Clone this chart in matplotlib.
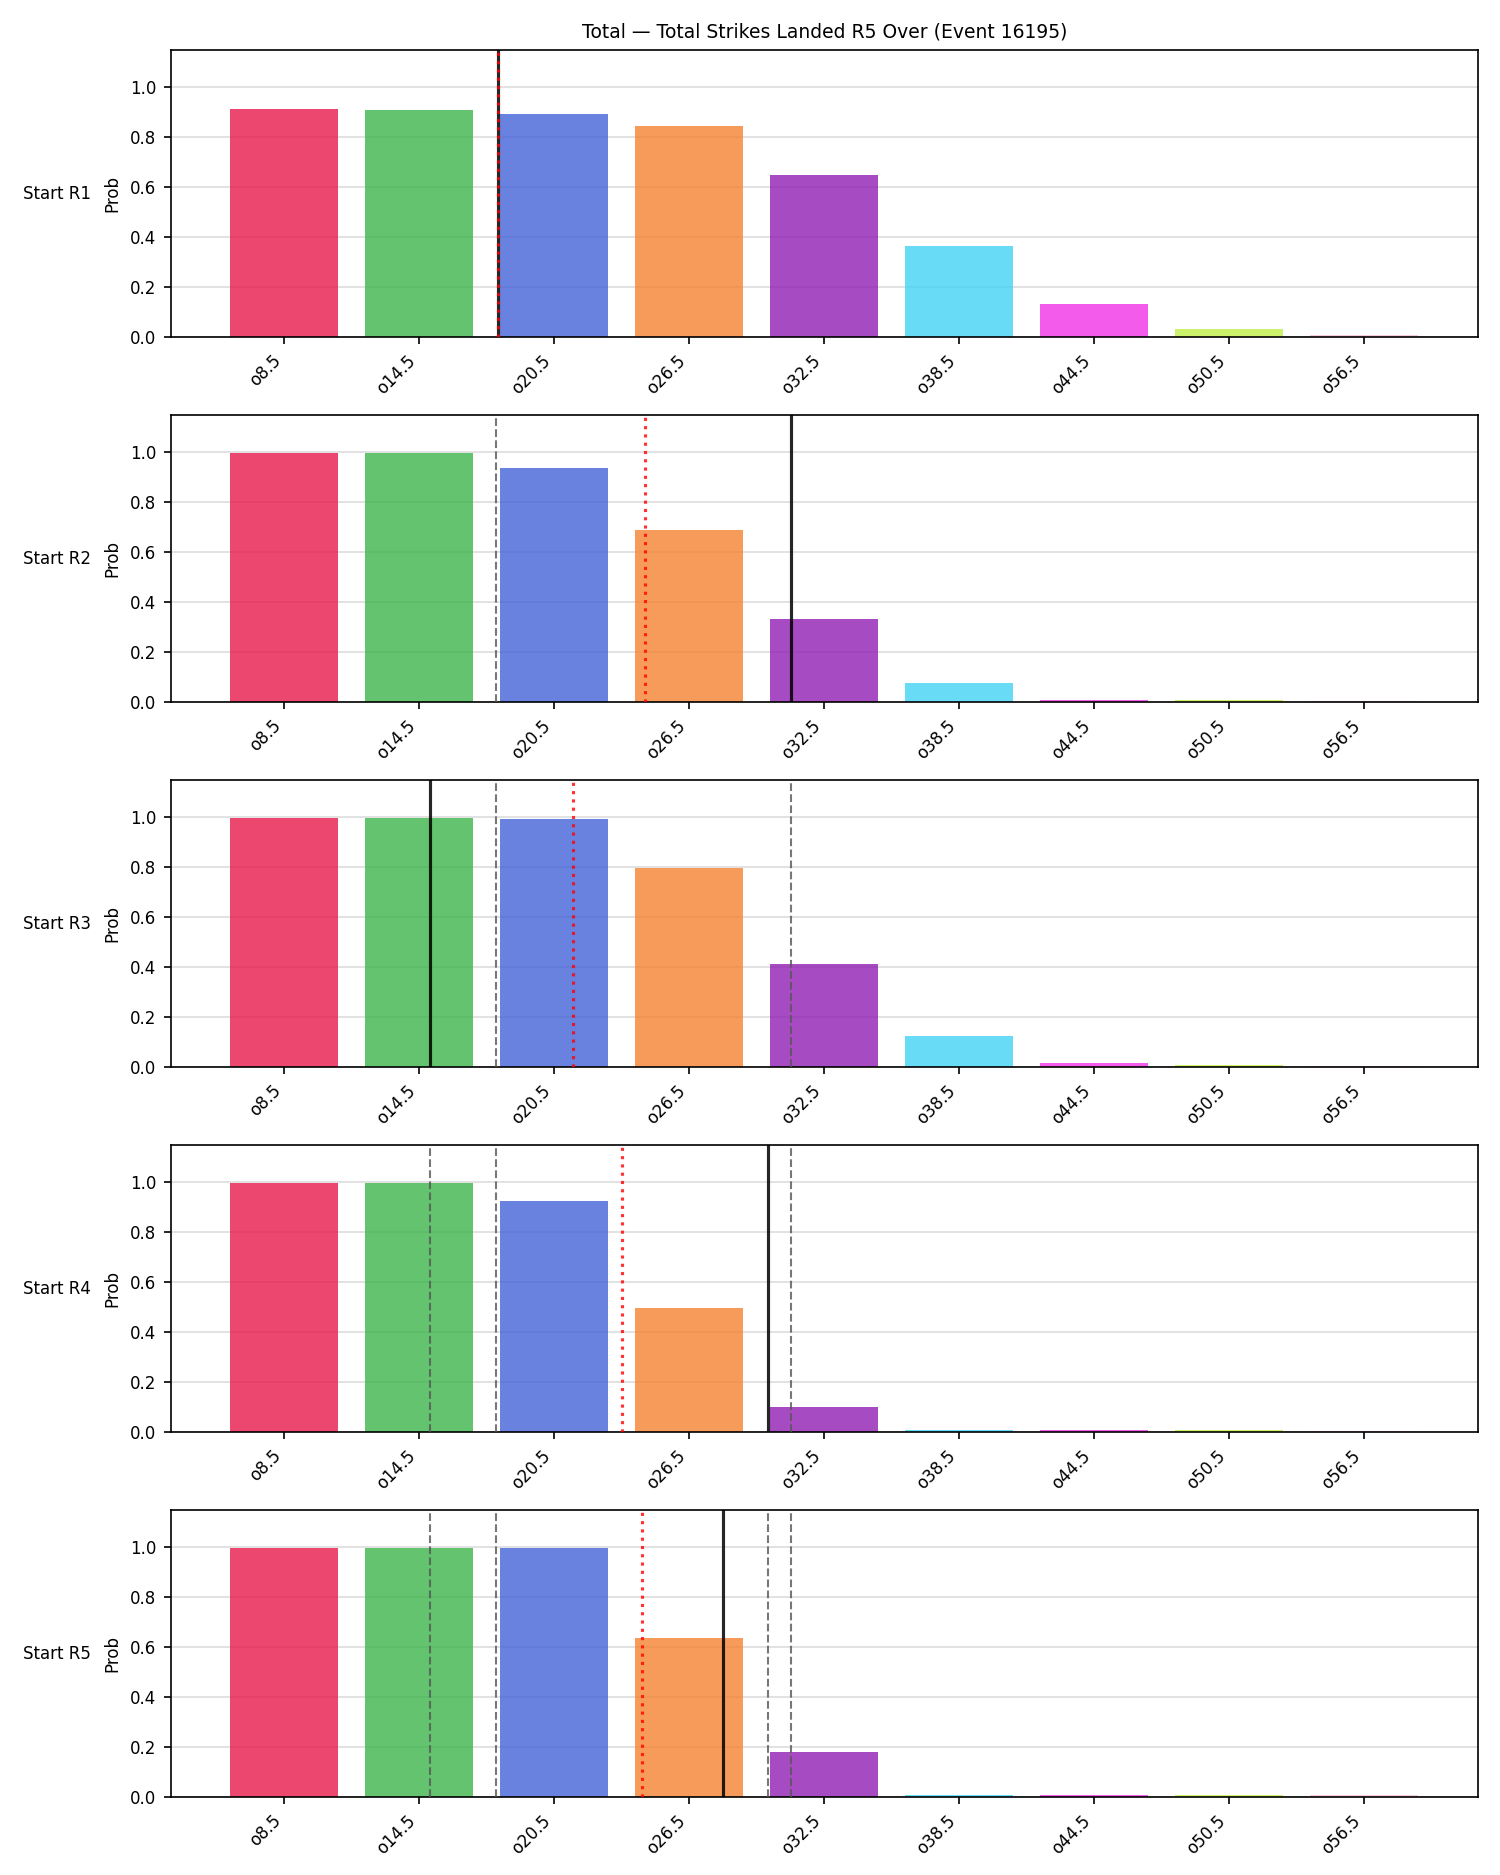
import matplotlib
matplotlib.use("Agg")
import matplotlib.pyplot as plt

TITLE = "Total — Total Strikes Landed R5 Over (Event 16195)"

lines = ["o8.5", "o14.5", "o20.5", "o26.5", "o32.5", "o38.5", "o44.5", "o50.5", "o56.5"]
rows = ["Start R1", "Start R2", "Start R3", "Start R4", "Start R5"]

colors = ["#e6194b", "#3cb44b", "#4363d8", "#f58231", "#911eb4",
          "#42d4f4", "#f032e6", "#bfef45", "#fabed4"]

prob_r1 = [0.913, 0.909, 0.893, 0.845, 0.650, 0.364, 0.131, 0.031, 0.007]
prob_r2 = [0.997, 0.997, 0.937, 0.689, 0.332, 0.075, 0.009, 0.007, 0.006]
prob_r3 = [0.997, 0.997, 0.993, 0.797, 0.412, 0.125, 0.016, 0.007, 0.006]
prob_r4 = [0.997, 0.997, 0.925, 0.496, 0.099, 0.008, 0.007, 0.007, 0.006]
prob_r5 = [0.997, 0.997, 0.997, 0.636, 0.179, 0.010, 0.008, 0.008, 0.007]
probs = [prob_r1, prob_r2, prob_r3, prob_r4, prob_r5]

# marker positions on the category axis
solid_pos = [1.58, 3.75, 1.08, 3.58, 3.25]
dotted_pos = [1.58, 2.67, 2.14, 2.50, 2.65]
dashed_pos = [[], [1.57], [1.57, 3.75], [1.08, 1.57, 3.75], [1.08, 1.57, 3.58, 3.75]]

fig, axes = plt.subplots(5, 1, figsize=(10, 12.5), dpi=150)
fig.subplots_adjust(left=0.114, right=0.985, top=0.9733, bottom=0.0416, hspace=0.272)

x = list(range(len(lines)))

for i, ax in enumerate(axes):
    ax.bar(x, probs[i], color=colors, alpha=0.8, width=0.8, zorder=2)

    for d in dashed_pos[i]:
        ax.axvline(d, color="#555555", linestyle="--", linewidth=1.0, alpha=0.8, zorder=3)
    ax.axvline(solid_pos[i], color="black", linewidth=1.5, alpha=0.85, zorder=4)
    ax.axvline(dotted_pos[i], color="red", linestyle=":", linewidth=1.5, alpha=0.8, zorder=5)

    ax.set_ylim(0, 1.15)
    ax.set_xticks(x)
    ax.set_xticklabels(lines, rotation=45, ha="right", fontsize=8)
    ax.tick_params(axis="y", labelsize=8)
    ax.set_ylabel("Prob", fontsize=8)
    ax.grid(axis="y", color="#dddddd", linewidth=0.8, zorder=0)
    ax.set_axisbelow(True)
    ax.text(-0.061, 0.5, rows[i], transform=ax.transAxes,
            ha="right", va="center", fontsize=8)

axes[0].set_title(TITLE, fontsize=9)

plt.savefig("out.png", dpi=150)
plt.close()
